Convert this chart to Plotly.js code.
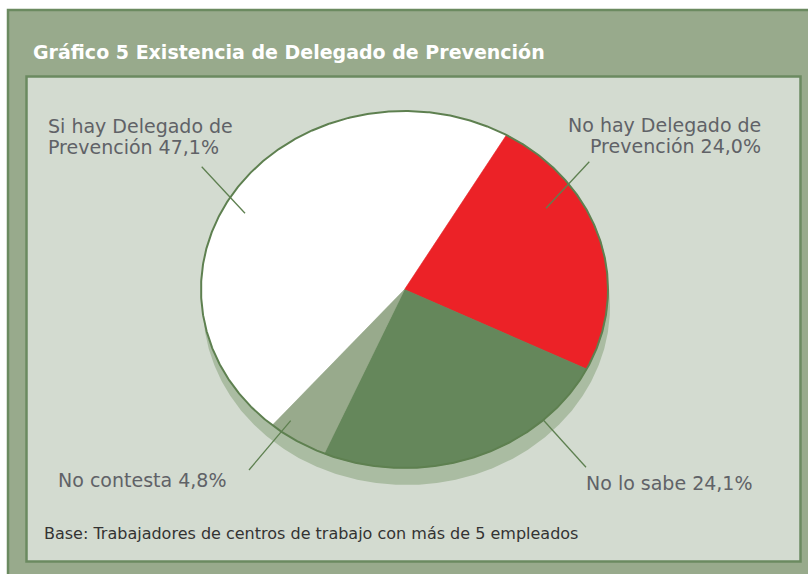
<!DOCTYPE html>
<html>
<head>
<meta charset="utf-8">
<script src="https://cdn.plot.ly/plotly-3.0.1.min.js"></script>
<style>
  html, body { margin: 0; padding: 0; background: #ffffff; }
  #chart { width: 808px; height: 574px; }
</style>
</head>
<body>
<div id="chart"></div>
<script>
// ---- Data ----
const categories = ['Si hay Delegado de Prevención', 'No hay Delegado de Prevención', 'No lo sabe', 'No contesta'];
const values = [47.1, 24.0, 24.1, 4.8];
const sliceColors = ['#ffffff', '#ec2227', '#65875b', '#98aa8c'];
const chartTitle = 'Gráfico 5 Existencia de Delegado de Prevención';
const footnote = 'Base: Trabajadores de centros de trabajo con más de 5 empleados';

// ---- Layout constants (pixel space) ----
const W = 808, H = 574;
const pie = { cx: 404.5, cy: 289.5, rx: 203.5, ry: 178.5, start: 229.5, depthX: 2, depthY: 17 };
const labelFont = { family: 'DejaVu Sans, Verdana, sans-serif', size: 19, color: '#606267' };
const labelLayout = [
  { x: 47,  base: 133, anchor: 'left',  wrap: true,  leader: [245, 213.3, 201.7, 166.7] },
  { x: 762, base: 132, anchor: 'right', wrap: true,  leader: [546, 208.3, 589.3, 161.7] },
  { x: 585, base: 490, anchor: 'left',  wrap: false, leader: [543.3, 420, 586, 467.3] },
  { x: 57,  base: 487, anchor: 'left',  wrap: false, leader: [290.7, 420.7, 249, 470] }
];

function fmtPct(v) { return v.toFixed(1).replace('.', ',') + '%'; }

function ellipsePts(cx, cy, a0, a1) {
  const xs = [], ys = [];
  const n = Math.max(2, Math.ceil(Math.abs(a1 - a0) / 0.5));
  for (let k = 0; k <= n; k++) {
    const a = (a0 + (a1 - a0) * k / n) * Math.PI / 180;
    xs.push(cx + pie.rx * Math.cos(a));
    ys.push(cy - pie.ry * Math.sin(a));
  }
  return { xs, ys };
}

const traces = [];
// depth / shadow
{
  const e = ellipsePts(pie.cx + pie.depthX, pie.cy + pie.depthY, 0, 360);
  traces.push({ type: 'scatter', mode: 'lines', x: e.xs, y: e.ys, fill: 'toself',
    fillcolor: '#aabca2', line: { width: 0, color: '#aabca2' }, hoverinfo: 'skip', showlegend: false });
}
// slices (clockwise from start angle)
const total = values.reduce((s, v) => s + v, 0);
let ang = pie.start;
values.forEach((v, i) => {
  const sweep = v / total * 360;
  const e = ellipsePts(pie.cx, pie.cy, ang, ang - sweep);
  traces.push({ type: 'scatter', mode: 'lines',
    x: [pie.cx, ...e.xs, pie.cx], y: [pie.cy, ...e.ys, pie.cy],
    fill: 'toself', fillcolor: sliceColors[i],
    line: { width: 0.6, color: sliceColors[i] },
    name: categories[i], hoverinfo: 'skip', showlegend: false });
  ang -= sweep;
});
// outline
{
  const e = ellipsePts(pie.cx, pie.cy, 0, 360);
  traces.push({ type: 'scatter', mode: 'lines', x: e.xs, y: e.ys,
    line: { width: 2, color: '#5e8050' }, hoverinfo: 'skip', showlegend: false });
}

const shapes = [
  // outer frame
  { type: 'rect', xref: 'x', yref: 'y', x0: 8, y0: 10, x1: 830, y1: 600,
    fillcolor: '#98aa8c', line: { color: '#6b8a60', width: 2.5 }, layer: 'below' },
  // inner panel
  { type: 'rect', xref: 'x', yref: 'y', x0: 26.5, y0: 76.5, x1: 800.5, y1: 561.5,
    fillcolor: '#d3dbd0', line: { color: '#6b8a60', width: 2.5 }, layer: 'below' }
];

const annotations = [];
labelLayout.forEach((L, i) => {
  const words = categories[i].split(' ');
  let lines;
  if (L.wrap) {
    const last = words.pop();
    lines = [words.join(' '), last + ' ' + fmtPct(values[i])];
  } else {
    lines = [categories[i] + ' ' + fmtPct(values[i])];
  }
  lines.forEach((t, j) => {
    annotations.push({ xref: 'x', yref: 'y', x: L.x, y: L.base + j * 20.5 - 6.6,
      xanchor: L.anchor, yanchor: 'middle', text: t, showarrow: false, borderpad: 0, font: labelFont });
  });
  shapes.push({ type: 'line', xref: 'x', yref: 'y', x0: L.leader[0], y0: L.leader[1],
    x1: L.leader[2], y1: L.leader[3], line: { color: '#5e8050', width: 1.3 }, layer: 'above' });
});

annotations.push({ xref: 'x', yref: 'y', x: 32, y: 52.4, xanchor: 'left', yanchor: 'middle',
  text: '<b>' + chartTitle + '</b>', showarrow: false, borderpad: 0,
  font: { family: 'DejaVu Sans, Verdana, sans-serif', size: 19, color: '#ffffff' } });
annotations.push({ xref: 'x', yref: 'y', x: 42.5, y: 533.5, xanchor: 'left', yanchor: 'middle',
  text: footnote, showarrow: false, borderpad: 0,
  font: { family: 'DejaVu Sans, Verdana, sans-serif', size: 16, color: '#333333' } });

const layout = {
  width: W, height: H,
  margin: { l: 0, r: 0, t: 0, b: 0, pad: 0 },
  paper_bgcolor: '#ffffff', plot_bgcolor: 'rgba(0,0,0,0)',
  xaxis: { range: [0, W], visible: false, fixedrange: true, domain: [0, 1] },
  yaxis: { range: [H, 0], visible: false, fixedrange: true, domain: [0, 1] },
  showlegend: false,
  shapes, annotations
};

Plotly.newPlot('chart', traces, layout, { displayModeBar: false, staticPlot: true });
</script>
</body>
</html>
